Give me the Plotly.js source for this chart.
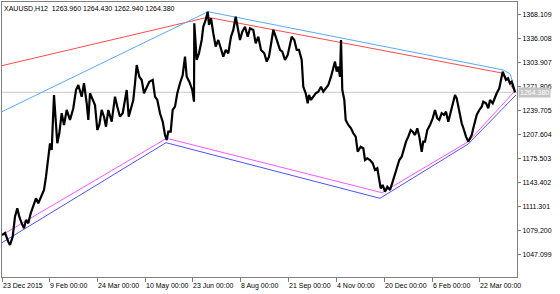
<!DOCTYPE html>
<html>
<head>
<meta charset="utf-8">
<script src="https://cdn.plot.ly/plotly-3.0.1.min.js"></script>
<style>html,body{margin:0;padding:0;background:#fff;}#chart{width:560px;height:294px;}</style>
</head>
<body>
<div id="chart"></div>
<script>
// Bar index (H12 bars) and price readings
const priceX = [0,3,6.3,8,10.7,13,15.3,17.3,19.7,22,24,26.3,28.7,31.3,34,36.3,39.7,42,44,46.3,48,49.7,50.7,52,53,55.3,57.3,59.7,62,64.7,68,71.3,74,76.3,79.7,82,84.7,86.3,88,90.7,93,95.3,97.3,99.7,102,104,106.3,109.7,113,115.3,118,120.7,123,124.7,126.7,128.7,131.3,133,134.7,137.3,139.7,142,144.7,147.3,150.7,153,155.3,158,160.7,163,164.7,166.3,168.7,170.7,173,175.3,178,180.7,183,184.7,187.3,190.3,192,192.3,194.7,197,199.7,201.3,203.7,205.7,207,209,211.3,213.7,216.3,219,221.3,223.7,226.3,229,231.3,233.7,235.7,238,240.3,243,245.7,248,251.3,253.7,256.3,259,262.3,264.7,267,269,271.3,273.7,275.7,278,280.3,283,285.7,288,289.7,292.3,294.7,297,299.7,301.3,303.7,305.7,307,309,311.3,313.7,316.3,319,321.3,323.7,326.3,329,331.3,333,334.7,336.3,338,339,340.3,342.3,343.7,346.3,349,351.3,353.7,355.7,358.7,361.3,363,365.3,368,370.7,373,375.3,377.3,378.7,380.7,383,385.3,388,390.7,393,395.3,397.3,399.7,401.3,404,406.3,408.7,410.7,413,415.3,417.3,419.7,421.3,423,425.3,428,430.7,433,435.3,437.3,439.7,442,444,446.3,448,450.7,453,454.7,456.3,458,459.7,462,464,466.3,468,469.7,471.3,473,474.7,477.3,479.7,481.3,484,486.3,488,490.7,493,494.7,497.3,498.7,500.7,502,504,506,508,509.7,511.3,513];
const priceY = [1073.0,1075.7,1064.0,1059.6,1070.7,1097.5,1108.8,1097.5,1088.7,1082.0,1093.1,1088.7,1102.1,1111.0,1122.2,1115.5,1126.6,1133.4,1151.2,1173.6,1196.0,1187.0,1231.7,1260.8,1240.7,1196.0,1209.4,1236.3,1220.6,1240.7,1227.3,1243.0,1267.5,1274.2,1258.5,1276.5,1249.7,1227.3,1263.1,1254.1,1247.4,1213.8,1220.6,1240.7,1231.7,1218.3,1240.7,1225.0,1258.5,1245.1,1231.7,1236.3,1254.1,1267.5,1231.7,1243.0,1254.1,1276.5,1301.0,1285.3,1280.9,1263.1,1271.9,1278.6,1280.9,1258.5,1254.1,1236.3,1225.0,1207.1,1200.4,1211.6,1211.6,1240.7,1245.1,1263.1,1276.5,1287.6,1312.2,1285.3,1278.6,1267.5,1251.8,1357.0,1307.7,1316.7,1334.6,1352.4,1361.4,1372.5,1354.7,1363.7,1343.6,1325.6,1334.6,1321.2,1312.2,1321.2,1316.7,1339.0,1348.0,1365.8,1352.4,1334.6,1345.7,1352.4,1339.0,1350.3,1348.0,1330.2,1339.0,1321.2,1316.7,1305.5,1312.2,1330.2,1348.0,1339.0,1330.2,1321.2,1318.9,1307.7,1314.5,1330.2,1339.0,1334.6,1321.2,1321.2,1307.7,1271.9,1263.1,1249.7,1260.8,1254.1,1258.5,1263.1,1265.2,1271.9,1265.2,1269.8,1274.2,1285.3,1298.8,1305.5,1292.1,1298.8,1285.3,1334.6,1267.5,1254.1,1227.3,1220.6,1216.1,1209.4,1204.9,1184.7,1191.4,1189.3,1173.6,1175.9,1173.6,1169.2,1160.2,1162.5,1146.8,1135.6,1140.1,1131.1,1137.8,1133.4,1144.5,1155.8,1164.6,1173.6,1178.0,1187.0,1198.2,1204.9,1213.8,1211.6,1207.1,1216.1,1204.9,1184.7,1198.2,1198.2,1213.8,1220.6,1229.5,1240.7,1229.5,1227.3,1236.3,1234.0,1238.4,1225.0,1234.0,1249.7,1260.8,1256.4,1245.1,1234.0,1222.8,1213.8,1204.9,1198.2,1202.7,1207.1,1216.1,1227.3,1234.0,1240.7,1245.1,1251.8,1249.7,1243.0,1254.1,1249.7,1258.5,1263.1,1269.8,1280.9,1292.1,1287.6,1280.9,1283.2,1276.5,1278.6,1269.8,1264.38];

// Indicator lines (bar index, price)
const redX = [0, 205.7, 501.3, 513];
const redY = [1300.1, 1365.0, 1289.9, 1264.8];
const skyX = [0, 206, 501.3, 508, 513.5];
const skyY = [1238.4, 1372.5, 1294.3, 1289.0, 1266.2];
const pinkX = [0, 164.7, 380, 466.3, 513];
const pinkY = [1073.0, 1202.7, 1129.7, 1198.2, 1266.2];
const blueX = [0, 164, 378, 466.3, 514];
const blueY = [1062.7, 1196.8, 1122.2, 1195.1, 1260.8];

// Axis ticks
const yTicks = [1047.099, 1079.200, 1111.301, 1143.402, 1175.503, 1207.604, 1239.705, 1271.806, 1303.907, 1336.008, 1368.109];
const xTickVals = [0, 47, 95, 143, 190, 238, 286, 334, 382, 430, 477];
const xTickText = ["23 Dec 2015","9 Feb 00:00","24 Mar 00:00","10 May 00:00","23 Jun 00:00","8 Aug 00:00","21 Sep 00:00","4 Nov 00:00","20 Dec 00:00","6 Feb 00:00","22 Mar 00:00"];

const headerText = "XAUUSD,H12  1263.960 1264.430 1262.940 1264.380";
const lastPrice = 1264.38;

const F = "Liberation Sans, Arial, sans-serif";

const traces = [
  {x: redX, y: redY, mode: 'lines', line: {color: '#ff4a4a', width: 1}, hoverinfo: 'skip'},
  {x: skyX, y: skyY, mode: 'lines', line: {color: '#55aaff', width: 1}, hoverinfo: 'skip'},
  {x: pinkX, y: pinkY, mode: 'lines', line: {color: '#ff55ff', width: 1}, hoverinfo: 'skip'},
  {x: blueX, y: blueY, mode: 'lines', line: {color: '#5050ff', width: 1}, hoverinfo: 'skip'},
  {x: priceX, y: priceY, mode: 'lines', line: {color: '#000000', width: 2.2}, hoverinfo: 'skip'}
];

const annotations = xTickText.map((t, i) => ({
  x: xTickVals[i], xref: 'x', y: 0, yref: 'paper', yanchor: 'top', xanchor: 'left',
  text: t, showarrow: false, font: {family: F, size: 7, color: '#000'}, xshift: -1, yshift: -3
}));
annotations.push({
  x: 0, xref: 'paper', y: 1, yref: 'paper', xanchor: 'left', yanchor: 'top',
  text: headerText, showarrow: false, font: {family: F, size: 7, color: '#000'}, xshift: 0, yshift: -1
});
annotations.push({
  x: 1, xref: 'paper', y: lastPrice, yref: 'y', xanchor: 'left', yanchor: 'middle',
  text: lastPrice.toFixed(3), showarrow: false, bgcolor: '#c4c4c4', borderpad: 1,
  font: {family: F, size: 7, color: '#ffffff'}, xshift: 1
});

const layout = {
  width: 560, height: 294,
  margin: {l: 2, r: 43, t: 2, b: 17},
  paper_bgcolor: '#ffffff', plot_bgcolor: '#ffffff',
  showlegend: false,
  xaxis: {
    range: [0, 515], showgrid: false, zeroline: false,
    showline: true, mirror: true, linecolor: '#808080', linewidth: 1,
    tickvals: xTickVals, showticklabels: false,
    ticks: 'outside', ticklen: 4, tickcolor: '#808080', tickwidth: 1
  },
  yaxis: {
    range: [1016.65, 1385.5], side: 'right', showgrid: false, zeroline: false,
    showline: true, mirror: true, linecolor: '#808080', linewidth: 1,
    tickvals: yTicks, tickformat: '.3f',
    ticks: 'outside', ticklen: 3, tickcolor: '#808080', tickwidth: 1,
    tickfont: {family: F, size: 7, color: '#000'}
  },
  shapes: [{
    type: 'line', xref: 'paper', x0: 0, x1: 1, yref: 'y', y0: lastPrice, y1: lastPrice,
    line: {color: '#c8c8c8', width: 1}, layer: 'below'
  }],
  annotations: annotations
};

Plotly.newPlot('chart', traces, layout, {staticPlot: true, displayModeBar: false});
</script>
</body>
</html>
